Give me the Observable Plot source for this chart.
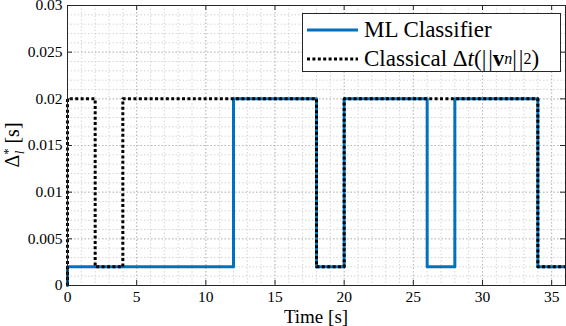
<!DOCTYPE html>
<html><head><meta charset="utf-8">
<script src="https://cdn.jsdelivr.net/npm/d3@7"></script>
<script src="https://cdn.jsdelivr.net/npm/@observablehq/plot@0.6"></script>
<style>
html,body{margin:0;padding:0;background:#fff;}
#wrap{position:relative;width:566px;height:326px;font-family:'Liberation Serif';}
#legend{position:absolute;left:302px;top:13px;width:259px;height:59px;border:1px solid #262626;background:#fff;box-sizing:border-box;}
.row{position:absolute;left:0;height:28px;display:flex;align-items:center;font-size:23px;color:#000;white-space:nowrap;font-family:'Liberation Serif';}
.row svg{margin-left:4px;margin-right:6px;}
sup,sub{font-size:16px;line-height:0;}
svg text{font-family:'Liberation Serif';}
</style></head><body><div id="wrap"></div>
<script>
// Data
const mlTime = [0, 0, 12, 18, 20, 26, 28, 34, 36];
const mlDelta = [0, 0.002, 0.02, 0.002, 0.02, 0.002, 0.02, 0.002, 0.002];
const classicalTime = [0, 0, 2, 4, 18, 20, 34, 36];
const classicalDelta = [0, 0.02, 0.002, 0.02, 0.002, 0.02, 0.002, 0.002];
const xTicks = [0, 5, 10, 15, 20, 25, 30, 35];
const yTicks = [0, 0.005, 0.01, 0.015, 0.02, 0.025, 0.03];
const yTickLabels = ["0", "0.005", "0.01", "0.015", "0.02", "0.025", "0.03"];
const xMinor = d3.range(0, 37, 1);
const yMinor = d3.range(0, 31, 1).map(i => i / 1000);

const ml = mlTime.map((t, i) => ({t, v: mlDelta[i]}));
const cl = classicalTime.map((t, i) => ({t, v: classicalDelta[i]}));

const W = 566, H = 326, mT = 5, mB = 41, mL = 67, mR = 1;
const innerH = H - mT - mB, innerW = W - mL - mR;
const axisColor = "#262626";
const serif = "Liberation Serif";

const plot = Plot.plot({
  width: W, height: H, marginTop: mT, marginBottom: mB, marginLeft: mL, marginRight: mR,
  style: {fontFamily: serif, fontSize: "15.5px", color: axisColor, background: "#fff", overflow: "visible"},
  x: {domain: [0, 36]},
  y: {domain: [0, 0.03]},
  marks: [
    Plot.ruleX(xMinor, {x: d => d, stroke: "#cccccc", strokeWidth: 0.8, strokeDasharray: "1.5,2"}),
    Plot.ruleY(yMinor, {y: d => d, stroke: "#cccccc", strokeWidth: 0.8, strokeDasharray: "1.5,2"}),
    Plot.ruleX(xTicks, {x: d => d, stroke: "#b4b4b4", strokeWidth: 0.8, strokeDasharray: "1.5,2"}),
    Plot.ruleY(yTicks, {y: d => d, stroke: "#b4b4b4", strokeWidth: 0.8, strokeDasharray: "1.5,2"}),
    Plot.line(ml, {x: "t", y: "v", curve: "step-after", stroke: "#0072BD", strokeWidth: 3}),
    Plot.line(cl, {x: "t", y: "v", curve: "step-after", stroke: "#000", strokeWidth: 3, strokeDasharray: "3,2.4", strokeLinecap: "butt"}),
    Plot.frame({stroke: axisColor}),
    Plot.tickX(xTicks, {x: d => d, insetTop: innerH - 5, stroke: axisColor}),
    Plot.tickX(xTicks, {x: d => d, insetBottom: innerH - 5, stroke: axisColor}),
    Plot.tickY(yTicks, {y: d => d, insetRight: innerW - 5, stroke: axisColor}),
    Plot.tickY(yTicks, {y: d => d, insetLeft: innerW - 5, stroke: axisColor}),
    Plot.axisX(xTicks, {tickSize: 0, tickPadding: 5, label: null, fill: "#000", fontFamily: serif}),
    Plot.axisY(yTicks, {tickSize: 0, tickPadding: 5, label: null, fill: "#000", fontFamily: serif, tickFormat: d => yTickLabels[yTicks.indexOf(d)]})
  ]
});

const svg = d3.select(plot);
svg.append("text")
  .attr("x", mL + innerW / 2).attr("y", 323)
  .attr("text-anchor", "middle")
  .attr("font-family", serif).attr("font-size", 19).attr("fill", "#000")
  .text("Time [s]");

const yl = svg.append("text")
  .attr("transform", `translate(19,${mT + innerH / 2}) rotate(-90)`)
  .attr("text-anchor", "middle")
  .attr("font-family", serif).attr("font-size", 20).attr("fill", "#000");
yl.append("tspan").text("Δ");
yl.append("tspan").attr("dy", -7).attr("font-size", 13).text("*");
yl.append("tspan").attr("dx", -6).attr("dy", 12).attr("font-size", 13).attr("font-style", "italic").text("l");
yl.append("tspan").attr("dx", 2).attr("dy", -5).text(" [s]");

const wrap = document.getElementById("wrap");
wrap.appendChild(plot);

const legend = document.createElement("div");
legend.id = "legend";
legend.innerHTML = `
<div class="row" style="top:2px"><svg width="51" height="6"><line x1="0" x2="51" y1="3" y2="3" stroke="#0072BD" stroke-width="3"/></svg>ML Classifier</div>
<div class="row" style="top:31px"><svg width="51" height="6"><line x1="0" x2="51" y1="3" y2="3" stroke="#000" stroke-width="3" stroke-dasharray="3,2.4"/></svg>Classical&nbsp;Δ<i>t</i>(|&#8202;|<b>v</b><sup><i>n</i></sup>|&#8202;|<sub>2</sub>)</div>`;
wrap.appendChild(legend);
</script>
</body></html>
